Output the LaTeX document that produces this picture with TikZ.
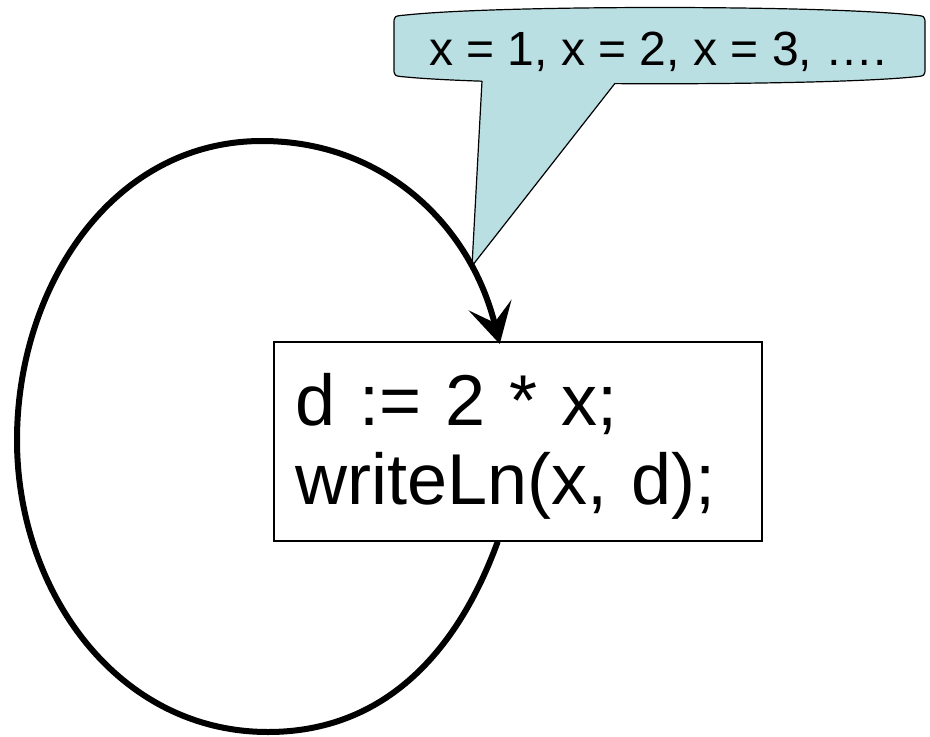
\documentclass[tikz,border=0pt]{standalone}
\usepackage{fontspec}
\setmainfont{Liberation Sans}
\usetikzlibrary{arrows.meta}
\definecolor{calloutblue}{RGB}{186,223,227}
\tikzset{
  loopline/.style={line width=6pt, line cap=butt,
    -{Stealth[length=40pt,width=44pt,inset=18pt]}},
  codebox/.style={draw, line width=1.5pt, fill=white, align=left,
    text width=444pt, inner xsep=22pt, inner ysep=0pt,
    minimum height=199pt, anchor=north west,
    font=\fontsize{72}{79}\selectfont},
  calloutshape/.style={fill=calloutblue, draw=black, line width=1.2pt},
  callouttext/.style={inner sep=0pt, anchor=base,
    font=\fontsize{48}{58}\selectfont}
}
\begin{document}
\begin{tikzpicture}[x=1pt,y=1pt]
\useasboundingbox (0,0) rectangle (930,-737);
% callout body
\filldraw[calloutshape] (394,-24) .. controls (394,-16) .. (406,-15)
  .. controls (500,-5) and (820,-5) .. (913,-15)
  .. controls (925,-16) .. (925,-24) -- (925,-68)
  .. controls (925,-76) .. (913,-77)
  .. controls (820,-86) and (500,-86) .. (406,-77)
  .. controls (394,-76) .. (394,-68) -- cycle;
% callout tail
\fill[calloutblue] (482,-70) -- (482,-81) -- (472,-266) -- (615,-83.3) -- (615,-70) -- cycle;
\draw[black, line width=1.2pt, line join=miter] (482,-81) -- (472,-266) -- (615,-83.3);
\node[callouttext] (lbl) at (658,-65) {x = 1, x = 2, x = 3, ….};
% code box
\node[codebox] (box) at (273,-341) {\rule{0pt}{62pt}d := 2 * x;\\writeLn(x, d);};
% loop
\draw[loopline] ([xshift=-20pt]box.south) to[out=250,in=0] (268,-732)
  to[out=180,in=270] (17,-440)
  to[out=90,in=180] (262,-141)
  to[out=0,in=104] ([xshift=-18pt,yshift=-3pt]box.north);
\end{tikzpicture}
\end{document}
